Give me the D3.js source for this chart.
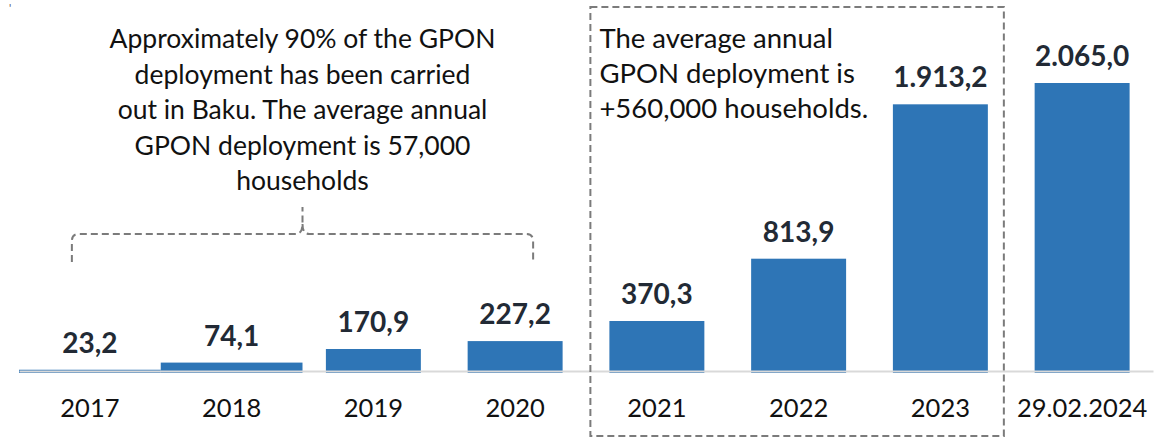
<!DOCTYPE html>
<html>
<head>
<meta charset="utf-8">
<script src="https://cdn.jsdelivr.net/npm/d3@7"></script>
<style>
  html, body { margin: 0; padding: 0; background: #fff; }
  svg { display: block; font-family: Lato, "Noto Sans", sans-serif; }
</style>
</head>
<body>
<div id="chart"></div>
<script>
// data (thousand households)
const categories = ["2017", "2018", "2019", "2020", "2021", "2022", "2023", "29.02.2024"];
const values = [23.2, 74.1, 170.9, 227.2, 370.3, 813.9, 1913.2, 2065.0];
const valueLabels = ["23,2", "74,1", "170,9", "227,2", "370,3", "813,9", "1.913,2", "2.065,0"];

const leftNote = [
  "Approximately 90% of the GPON",
  "deployment has been carried",
  "out in Baku. The average annual",
  "GPON deployment is 57,000",
  "households"
];
const rightNote = [
  "The average annual",
  "GPON deployment is",
  "+560,000 households."
];

const width = 1160, height = 438;
const barColor = "#2e75b6";
const dashColor = "#7b7b7b";

const svg = d3.select("#chart").append("svg")
    .attr("width", width)
    .attr("height", height);

let x = d3.scaleBand()
    .domain(categories)
    .range([19, 1153])
    .paddingInner(0.33)
    .paddingOuter(0.165);

let y = d3.scaleLinear()
    .domain([0, d3.max(values)])
    .range([373, 83]);

const step = x.step();
const bw = x.bandwidth();

// the first two years are drawn as flat strips across the whole slot
const flat = d => d === "2017" || d === "2018";

const data = categories.map((c, i) => ({ c: c, v: values[i], label: valueLabels[i] }));

svg.append("g").selectAll("rect")
    .data(data)
    .enter()
    .append("rect")
    .attr("x", d => flat(d.c) ? x(d.c) + bw / 2 - step / 2 : x(d.c))
    .attr("width", d => flat(d.c) ? step : bw)
    .attr("y", d => y(d.v))
    .attr("height", d => y(0) - y(d.v))
    .attr("fill", barColor);

// x axis (drawn over bar bottoms)
const axis = svg.append("g")
    .attr("transform", "translate(0,371)")
    .call(d3.axisBottom(x).tickSize(0).tickPadding(28));
axis.select(".domain")
    .attr("stroke", "#d9d9d9")
    .attr("stroke-width", 2);
axis.selectAll("text")
    .style("font-family", "Lato, 'Noto Sans', sans-serif")
    .style("font-size", "25.5px")
    .attr("fill", "#111");

// value labels
svg.append("g").selectAll("text")
    .data(data)
    .enter()
    .append("text")
    .attr("x", d => x(d.c) + bw / 2)
    .attr("y", d => y(d.v) - 17)
    .attr("text-anchor", "middle")
    .style("font-size", "28px")
    .style("font-weight", "bold")
    .attr("fill", "#222a35")
    .text(d => d.label);

// bracket over 2017-2020
const bl = x("2017") + bw / 2 - 18;
const br = x("2020") + bw / 2 + 18;
const bm = (bl + br) / 2;
const bracket = d3.path();
bracket.moveTo(bl, 262);
bracket.lineTo(bl, 241);
bracket.quadraticCurveTo(bl, 234, bl + 7, 234);
bracket.lineTo(bm - 7, 234);
bracket.quadraticCurveTo(bm, 234, bm, 224);
bracket.lineTo(bm, 207);
bracket.moveTo(bm, 224);
bracket.quadraticCurveTo(bm, 234, bm + 7, 234);
bracket.lineTo(br - 7, 234);
bracket.quadraticCurveTo(br, 234, br, 241);
bracket.lineTo(br, 262);
svg.append("path")
    .attr("d", bracket.toString())
    .attr("fill", "none")
    .attr("stroke", dashColor)
    .attr("stroke-width", 2)
    .attr("stroke-dasharray", "7,4");

svg.append("text")
    .attr("x", bm)
    .attr("y", 48)
    .attr("text-anchor", "middle")
    .style("font-size", "26.5px")
    .attr("fill", "#111")
    .selectAll("tspan")
    .data(leftNote)
    .enter()
    .append("tspan")
    .attr("x", bm)
    .attr("dy", (d, i) => i === 0 ? 0 : 35.5)
    .text(d => d);

// dashed box around 2021-2023
const boxL = x("2021") - 19;
const boxR = x("2023") + bw + 16;
svg.append("rect")
    .attr("x", boxL)
    .attr("y", 7)
    .attr("width", boxR - boxL)
    .attr("height", 429)
    .attr("fill", "none")
    .attr("stroke", dashColor)
    .attr("stroke-width", 2)
    .attr("stroke-dasharray", "7,4");

svg.append("text")
    .attr("x", boxL + 9)
    .attr("y", 48)
    .style("font-size", "27.5px")
    .attr("fill", "#111")
    .selectAll("tspan")
    .data(rightNote)
    .enter()
    .append("tspan")
    .attr("x", boxL + 9)
    .attr("dy", (d, i) => i === 0 ? 0 : 35)
    .text(d => d);

// stray mark in the top-left corner of the source
svg.append("text")
    .attr("x", 9)
    .attr("y", 12)
    .style("font-size", "11px")
    .attr("fill", "#556")
    .text("'");
</script>
</body>
</html>
